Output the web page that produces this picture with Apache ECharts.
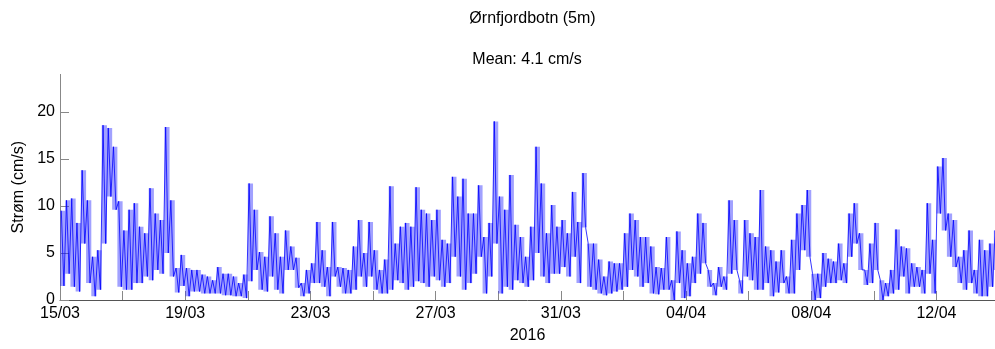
<!DOCTYPE html>
<html>
<head>
<meta charset="utf-8">
<script src="https://cdn.jsdelivr.net/npm/echarts@6/dist/echarts.min.js"></script>
<style>html,body{margin:0;padding:0;background:#fff}#c{width:995px;height:349px}</style>
</head>
<body>
<div id="c"></div>
<script>
// Current speed (cm/s), read per 4-hour bin: upper and lower envelope of the trace
const binsPerDay = 6;
const peakSpeed = [
  9.5,10.6,10.8,8.2,13.8,10.6, 4.6,5.3,18.6,18.3,16.3,10.5, 7.4,9.6,10.3,7.8,7.1,11.9,
  9.2,8.5,18.4,10.6,3.4,4.8, 3.4,3.2,3.2,2.7,2.5,2.1, 3.5,2.8,2.8,2.5,1.8,2.7,
  12.4,9.6,5.1,4.6,8.9,7.1, 4.6,7.4,5.7,4.5,1.8,3.2, 3.9,8.3,5.3,3.5,8.3,3.5,
  3.4,3.2,5.7,8.5,5.0,8.3, 5.3,3.2,4.3,12.1,6.0,7.8, 8.2,7.8,12.0,9.6,9.2,8.5,
  9.6,6.4,6.0,13.1,11.0,12.9, 9.2,9.2,12.2,6.7,8.2,19.0, 11.0,9.6,13.3,8.0,6.7,4.6,
  7.8,16.3,12.4,7.1,10.1,7.8, 8.5,7.1,11.5,8.3,13.5,6.0, 6.0,4.3,2.5,4.1,3.9,3.9,
  7.1,9.2,8.5,6.7,6.7,5.7, 3.5,3.4,6.7,2.1,7.3,5.3, 3.9,4.6,9.2,8.2,3.2,1.8,
  3.5,2.5,10.6,8.5,2.1,8.5, 7.1,6.7,11.7,5.7,5.3,4.1, 5.3,2.5,6.4,9.2,10.1,11.7,
  2.8,2.8,5.0,4.4,4.1,6.0, 3.9,9.2,10.3,7.1,3.2,6.0, 8.2,2.1,1.8,3.2,7.5,5.7,
  5.5,3.9,3.5,3.2,10.3,6.4, 14.2,15.1,9.2,8.5,4.6,5.3, 7.4,3.2,6.4,5.3,6.0,7.4
];
const troughSpeed = [
  1.5,2.8,1.4,0.9,6.0,1.8, 0.4,1.1,6.0,11.0,9.6,1.4, 1.1,1.1,1.8,1.8,2.5,2.1,
  3.2,2.8,5.0,2.5,0.8,1.5, 0.4,0.9,0.9,0.7,0.7,0.7, 0.7,0.5,0.5,0.4,0.4,0.2,
  2.0,3.2,1.1,0.9,2.5,1.1, 0.7,3.2,3.2,1.3,0.4,0.7, 1.8,1.8,1.4,0.4,2.5,1.4,
  0.7,0.7,1.1,2.5,1.4,2.5, 1.1,0.7,0.7,1.1,2.1,1.8, 1.1,1.4,2.0,1.8,1.4,2.5,
  2.1,1.4,1.8,4.6,2.5,1.1, 1.8,2.8,4.6,0.7,2.5,6.0, 0.7,1.4,1.1,2.1,1.8,1.4,
  2.1,5.0,2.5,1.8,2.8,2.8, 3.5,2.5,4.6,1.8,7.7,1.4, 1.1,0.7,0.5,0.7,0.9,1.1,
  1.4,3.2,2.5,1.4,1.8,0.7, 0.6,1.1,1.1,0.0,1.8,0.2, 0.4,1.8,2.8,3.9,1.4,0.5,
  1.4,1.1,2.8,3.2,0.7,2.5, 2.1,1.1,1.1,1.8,0.4,0.8, 1.8,0.7,0.7,3.2,5.3,4.6,
  0.0,0.2,1.4,1.8,1.8,2.1, 1.8,4.6,6.0,3.2,1.6,1.8, 3.2,0.0,0.4,0.7,1.1,2.5,
  0.7,1.4,1.4,0.7,2.8,0.7, 9.2,7.4,4.6,3.5,1.8,1.1, 1.8,0.7,0.4,0.4,1.4,3.2
];
// Axis ticks (days after 15/03/2016) and their labels
const tickDays = [0,2,4,6,8,10,12,14,16,18,20,22,24,26,28];
const labelDays = [0,4,8,12,16,20,24,28];
const tickLabels = ['15/03','19/03','23/03','27/03','31/03','04/04','08/04','12/04'];
const yTicks = [0,5,10,15,20];
const lastDay = 29.87;

// zig-zag trace through the envelopes, plus the band between them
const trace = [], bandRange = [];
for (let k = 0; k < peakSpeed.length; k++) {
  const t0 = k / binsPerDay;
  trace.push([t0 + 0.25 / binsPerDay, peakSpeed[k]]);
  trace.push([t0 + 0.75 / binsPerDay, troughSpeed[k]]);
  bandRange.push([t0, troughSpeed[k], peakSpeed[k]]);
}

function renderBand(params, api) {
  const x0 = api.coord([api.value(0), api.value(1)]);
  const x1 = api.coord([api.value(0) + 1 / binsPerDay, api.value(2)]);
  return {
    type: 'rect',
    shape: {x: x0[0], y: x1[1], width: x1[0] - x0[0], height: x0[1] - x1[1]},
    style: {fill: 'rgba(30,30,255,0.42)'}
  };
}

const font = 'Liberation Sans, Arial, sans-serif';
const chart = echarts.init(document.getElementById('c'), null, {renderer: 'canvas'});
chart.setOption({
  animation: false,
  backgroundColor: '#fff',
  title: [
    {text: 'Ørnfjordbotn (5m)', left: 527.5, top: 6, textAlign: 'center',
     textStyle: {fontSize: 16, fontWeight: 'normal', color: '#000', fontFamily: font}},
    {text: 'Mean: 4.1 cm/s', left: 522, top: 47, textAlign: 'center',
     textStyle: {fontSize: 16, fontWeight: 'normal', color: '#000', fontFamily: font}}
  ],
  grid: {left: 60, right: 0, top: 74.4, bottom: 49, containLabel: false},
  xAxis: {
    type: 'value', min: 0, max: lastDay,
    name: '2016', nameLocation: 'middle', nameGap: 28,
    nameTextStyle: {fontSize: 16, color: '#000', fontFamily: font},
    axisLine: {lineStyle: {color: '#555', width: 1}},
    axisTick: {inside: true, length: 9, customValues: tickDays, lineStyle: {color: '#888'}},
    axisLabel: {customValues: labelDays, margin: 6, fontSize: 16, color: '#000', fontFamily: font,
      formatter: v => tickLabels[Math.round(v / 4)] || ''},
    splitLine: {show: false}
  },
  yAxis: {
    type: 'value', min: 0, max: 24,
    name: 'Strøm (cm/s)', nameLocation: 'middle', nameGap: 32, nameRotate: 90,
    nameTextStyle: {fontSize: 16, color: '#000', fontFamily: font},
    axisLine: {show: true, lineStyle: {color: '#888', width: 1}},
    axisTick: {show: true, inside: true, length: 9, customValues: yTicks, lineStyle: {color: '#888'}},
    axisLabel: {customValues: yTicks, margin: 5, fontSize: 16, color: '#000', fontFamily: font},
    splitLine: {show: false}
  },
  series: [
    {type: 'custom', data: bandRange, renderItem: renderBand, silent: true, z: 1,
     clip: true, encode: {x: 0, y: [1, 2]}},
    {type: 'line', data: trace, symbol: 'none', silent: true,
     lineStyle: {color: '#0000ff', width: 0.8}, z: 2}
  ]
});
</script>
</body>
</html>
